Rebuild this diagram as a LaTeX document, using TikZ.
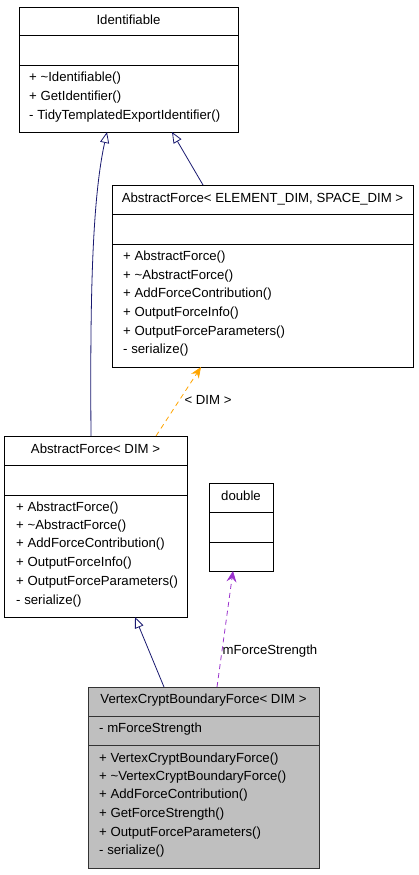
\documentclass[tikz,border=0pt]{standalone}
\usepackage{fontspec}
\setmainfont{Liberation Sans}
\usetikzlibrary{arrows.meta,calc}
\definecolor{navyline}{HTML}{191970}
\definecolor{orangeline}{HTML}{FFA500}
\definecolor{purpleline}{HTML}{9A32CD}
\definecolor{grayfill}{HTML}{BFBFBF}
\begin{document}
\begin{tikzpicture}[x=1pt,y=-1pt,
  umlbox/.style={draw=black,line width=0.9pt,fill=white,inner sep=0pt,outer sep=0pt,anchor=north west},
  title/.style={font=\fontsize{13.2}{15}\selectfont,inner sep=0pt,anchor=center},
  member/.style={font=\fontsize{13.2}{15}\selectfont,inner sep=0pt,anchor=west},
  divider/.style={line width=0.9pt},
  inh/.style={draw=navyline,line width=0.8pt,-{Triangle[open,length=11pt,width=9pt,fill=white]}},
  tmpl/.style={draw=orangeline,line width=0.8pt,dashed,dash pattern=on 5pt off 4pt,-{Stealth[length=11pt,width=9pt]}},
  usage/.style={draw=purpleline,line width=0.8pt,dashed,dash pattern=on 5pt off 4pt,-{Stealth[length=11pt,width=10pt,inset=4pt]}},
  elabel/.style={font=\fontsize{13.2}{15}\selectfont,inner sep=0pt}
]
\useasboundingbox (0,0) rectangle (419,875);
\fill[white] (0,0) rectangle (419,875);

% Identifiable
\node[umlbox,minimum width=219pt,minimum height=125pt] (ident) at (19,7) {};
\draw[divider] (19,35) -- (238,35);
\draw[divider] (19,65) -- (238,65);
\node[title] (identt) at (128.5,20) {Identifiable};
\node[member] (identm1) at (29,78) {+ \textasciitilde Identifiable()};
\node[member] (identm2) at (29,97) {+ GetIdentifier()};
\node[member] (identm3) at (29,116) {- TidyTemplatedExportIdentifier()};

% AbstractForce< ELEMENT_DIM, SPACE_DIM >
\node[umlbox,minimum width=301pt,minimum height=182pt] (afes) at (112,185) {};
\draw[divider] (112,214) -- (413,214);
\draw[divider] (112,244) -- (413,244);
\node[title] (afest) at (262.5,199) {AbstractForce< ELEMENT\_DIM, SPACE\_DIM >};
\node[member] (afesm1) at (123,257) {+ AbstractForce()};
\node[member] (afesm2) at (123,276) {+ \textasciitilde AbstractForce()};
\node[member] (afesm3) at (123,294) {+ AddForceContribution()};
\node[member] (afesm4) at (123,313) {+ OutputForceInfo()};
\node[member] (afesm5) at (123,332) {+ OutputForceParameters()};
\node[member] (afesm6) at (123,350) {- serialize()};

% AbstractForce< DIM >
\node[umlbox,minimum width=183pt,minimum height=181pt] (afd) at (4,436) {};
\draw[divider] (4,465) -- (187,465);
\draw[divider] (4,495) -- (187,495);
\node[title] (afdt) at (95.5,449) {AbstractForce< DIM >};
\node[member] (afdm1) at (16,508) {+ AbstractForce()};
\node[member] (afdm2) at (16,526) {+ \textasciitilde AbstractForce()};
\node[member] (afdm3) at (16,544) {+ AddForceContribution()};
\node[member] (afdm4) at (16,563) {+ OutputForceInfo()};
\node[member] (afdm5) at (16,582) {+ OutputForceParameters()};
\node[member] (afdm6) at (16,601) {- serialize()};

% double
\node[umlbox,minimum width=64pt,minimum height=88pt] (dbl) at (209,483) {};
\draw[divider] (209,512) -- (273,512);
\draw[divider] (209,542) -- (273,542);
\node[title] (dblt) at (241,496) {double};

% VertexCryptBoundaryForce< DIM >
\node[umlbox,fill=grayfill,draw=black!80,minimum width=231pt,minimum height=181pt] (vcb) at (88,687) {};
\draw[divider,black!80] (88,716) -- (319,716);
\draw[divider,black!80] (88,745) -- (319,745);
\node[title] (vcbt) at (203.5,700) {VertexCryptBoundaryForce< DIM >};
\node[member] (vcba1) at (99,729) {- mForceStrength};
\node[member] (vcbm1) at (99,759) {+ VertexCryptBoundaryForce()};
\node[member] (vcbm2) at (99,777) {+ \textasciitilde VertexCryptBoundaryForce()};
\node[member] (vcbm3) at (99,795) {+ AddForceContribution()};
\node[member] (vcbm4) at (99,814) {+ GetForceStrength()};
\node[member] (vcbm5) at (99,833) {+ OutputForceParameters()};
\node[member] (vcbm6) at (99,851) {- serialize()};

% connectors
\draw[inh] ($(afd.north west)+(87,0)$) .. controls (90,300) and (92,200) .. ($(ident.south west)+(88,0)$);
\draw[inh] ($(afes.north west)+(91,0)$) -- ($(ident.south west)+(153,0)$);
\draw[tmpl] ($(afd.north west)+(152,0)$) -- ($(afes.south west)+(89,0)$);
\node[elabel,anchor=center] (lbldim) at (208,400) {< DIM >};
\draw[inh] ($(vcb.north west)+(76,0)$) -- ($(afd.south west)+(131,0)$);
\draw[usage] ($(vcb.north west)+(129,0)$) -- ($(dbl.south west)+(24,0)$);
\node[elabel,anchor=center] (lblmfs) at (270,651) {mForceStrength};
\end{tikzpicture}
\end{document}
